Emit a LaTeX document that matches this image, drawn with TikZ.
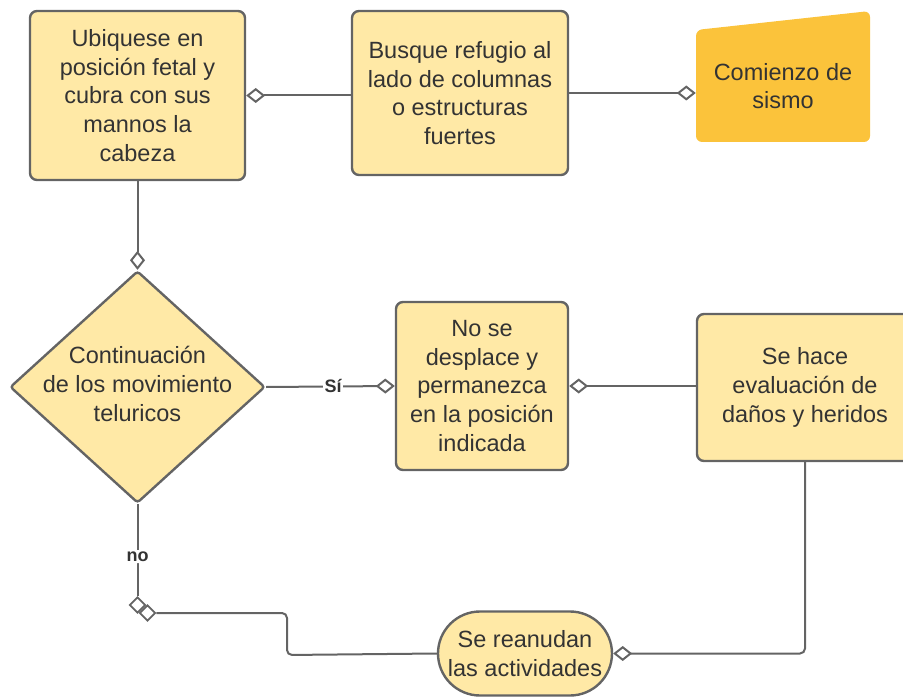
\documentclass[tikz,border=0pt]{standalone}
\usepackage{fontspec}
\setmainfont{Liberation Sans}
\usetikzlibrary{arrows.meta,shapes.geometric}
\definecolor{boxfill}{HTML}{FFE9A6}
\definecolor{startfill}{HTML}{FBC33B}
\definecolor{edge}{HTML}{646464}
\definecolor{txt}{HTML}{333333}
\begin{document}
\begin{tikzpicture}[x=1pt,y=-1pt,
  box/.style={draw=edge, line width=2.4pt, fill=boxfill, rounded corners=7pt, align=center, text=txt, font=\fontsize{23.5}{28.7}\selectfont, inner sep=0pt},
  plaintext/.style={align=center, text=txt, font=\fontsize{23.5}{28.7}\selectfont, inner sep=0pt},
  conn/.style={draw=edge, line width=2pt, -{Diamond[open,length=19pt,width=15pt]}},
  plainconn/.style={draw=edge, line width=2pt, rounded corners=5pt},
  dmark/.style={diamond, draw=edge, fill=white, line width=1.8pt, minimum width=16pt, minimum height=16pt, inner sep=0pt},
  lbl/.style={fill=white, font=\bfseries\fontsize{18}{20}\selectfont, text=txt, inner sep=1.5pt}]
\useasboundingbox (0,0) rectangle (903,698);
\clip (0,0) rectangle (903,698);

% nodes
\node[box, minimum width=215pt, minimum height=169pt] (b1) at (137.5,95.5) {Ubiquese en\\posición fetal y\\cubra con sus\\mannos la\\cabeza};
\node[box, minimum width=216pt, minimum height=164pt] (b2) at (460,93) {Busque refugio al\\lado de columnas\\o estructuras\\fuertes};
\fill[startfill, rounded corners=6pt] (696,30) -- (870,11) -- (870,142) -- (696,142) -- cycle;
\node[plaintext, minimum width=174pt] (start) at (783,86) {Comienzo de\\sismo};

\node[diamond, draw=edge, line width=2.4pt, fill=boxfill, rounded corners=3pt, minimum width=255pt, minimum height=232pt, inner sep=0pt] (dec) at (137.5,387) {};
\node[plaintext] (dect) at (137.5,384) {Continuación\\de los movimiento\\teluricos};

\node[box, minimum width=172pt, minimum height=168pt] (b3) at (482,386) {No se\\desplace y\\permanezca\\en la posición\\indicada};
\node[box, minimum width=216pt, minimum height=147pt] (b4) at (805,387.5) {Se hace\\evaluación de\\daños y heridos};
\node[box, rounded corners=42pt, minimum width=174pt, minimum height=84pt] (b5) at (525,653.5) {Se reanudan\\las actividades};

\node[dmark] (m1) at (137.5,605) {};
\node[dmark] (m2) at (147.5,613) {};

% connectors
\draw[conn] (b2.east) -- (b2.east -| start.west);
\draw[conn] (b1.east -| b2.west) -- (b1.east);
\draw[conn] (b1.south) -- (dec.north);
\draw[conn] (dec.east) -- node[lbl, pos=0.52]{Sí} (b3.west);
\draw[conn] (b4.west |- b3.east) -- (b3.east);
\draw[conn, rounded corners=5pt] (b4.south) |- (b5.east);
\draw[plainconn] (dec.south) -- node[lbl, pos=0.57]{no} (m1.north);
\draw[plainconn] (m2.east) -- (287,613) -- (287,655) -- (b5.west);
\end{tikzpicture}
\end{document}
